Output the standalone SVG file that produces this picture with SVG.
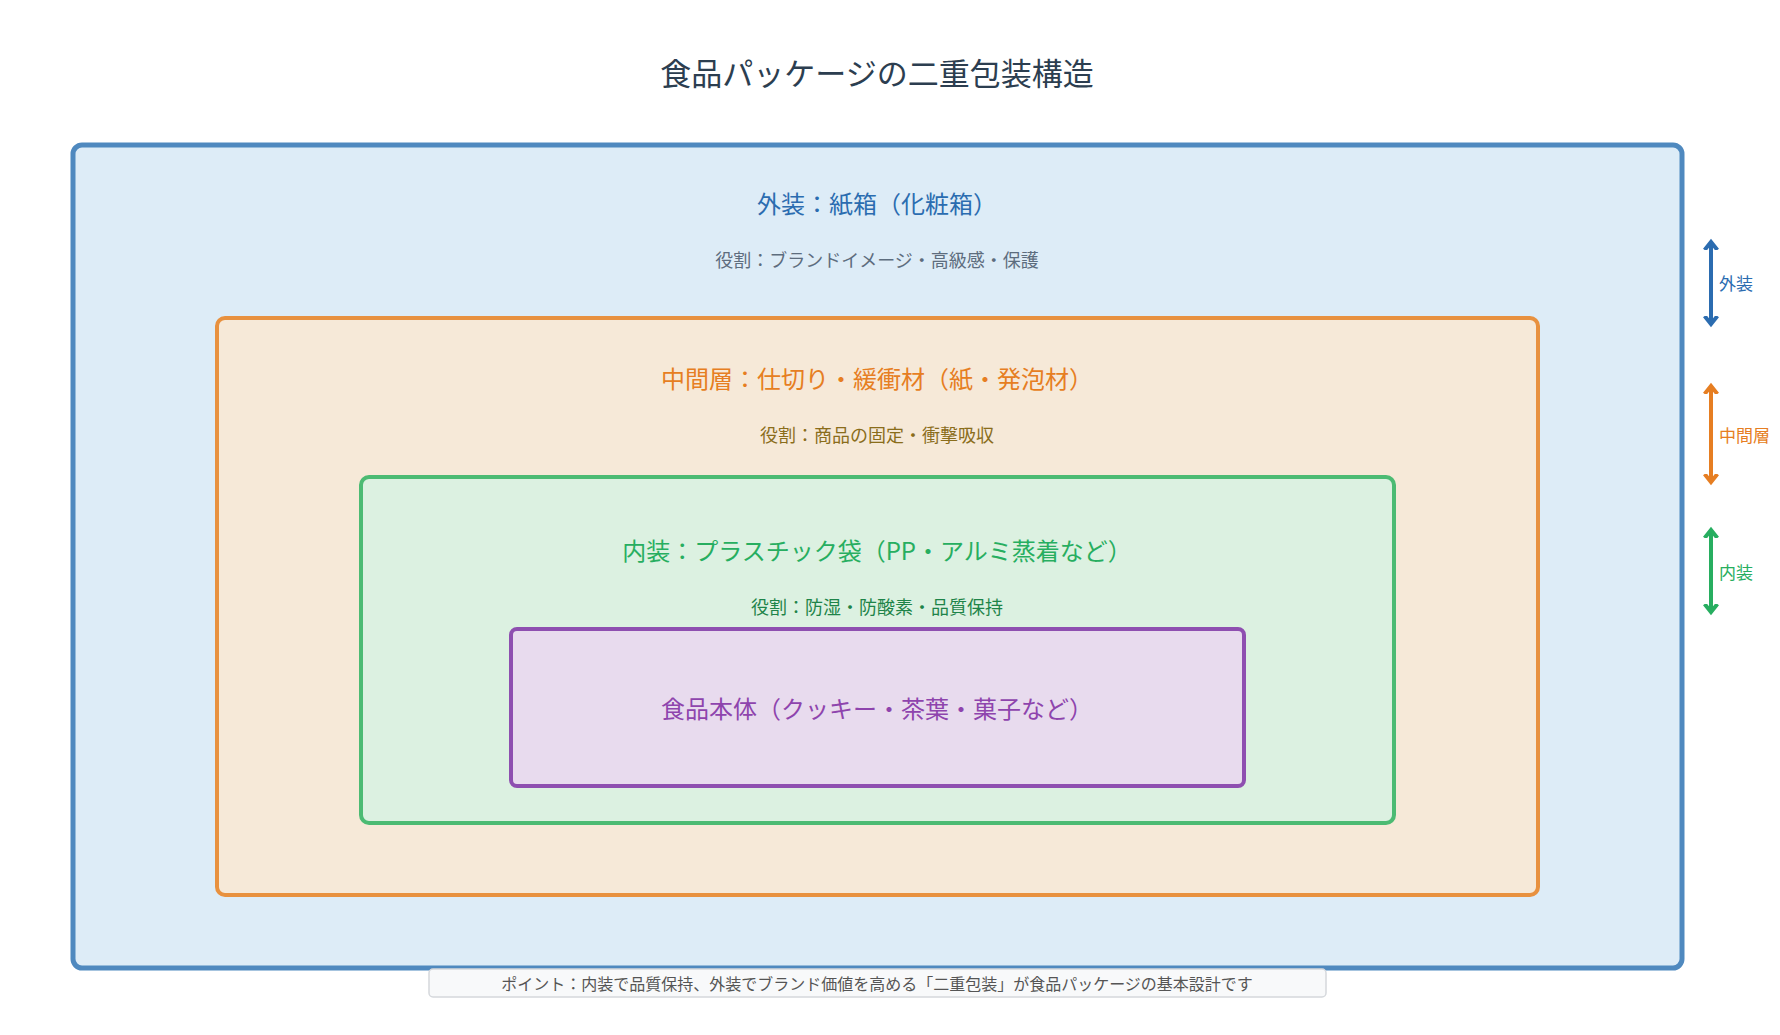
<svg xmlns="http://www.w3.org/2000/svg" width="1780" height="1035" viewBox="0 0 1780 1035">
<defs>
<style>
text{font-family:"Noto Sans CJK JP","Noto Sans",sans-serif;text-anchor:middle;dominant-baseline:central}
.t{font-size:24px}.s{font-size:18px}.l{font-size:17px;text-anchor:start}
</style>
<marker id="mb" viewBox="0 0 10 10" refX="5" refY="5" markerWidth="4" markerHeight="4" orient="auto-start-reverse"><path d="M0,1 L5,5 L0,9" fill="none" stroke="context-stroke" stroke-width="2.5"/></marker>
</defs>
<rect width="1780" height="1035" fill="#fff"/>
<text x="877" y="71" font-size="31" fill="#2c3e50">食品パッケージの二重包装構造</text>
<g id="outer"><rect x="73" y="145" width="1609" height="823" rx="9" fill="#ddecf7" stroke="#4f89bf" stroke-width="5"/>
<text class="t" x="877" y="202" fill="#2b6cb0">外装：紙箱（化粧箱）</text>
<text class="s" x="877" y="259" fill="#5d6d7e">役割：ブランドイメージ・高級感・保護</text></g>
<g id="middle"><rect x="217" y="318" width="1321" height="577" rx="8" fill="#f6e9d8" stroke="#e8913f" stroke-width="4"/>
<text class="t" x="877" y="377" fill="#e67e22" font-size="22">中間層：仕切り・緩衝材（紙・発泡材）</text>
<text class="s" x="877" y="434" fill="#8a6d1b">役割：商品の固定・衝撃吸収</text></g>
<g id="inner"><rect x="361" y="477" width="1033" height="346" rx="8" fill="#dcf1e1" stroke="#4cbb73" stroke-width="4"/>
<text class="t" x="877" y="549" fill="#27ae60" font-size="22">内装：プラスチック袋（PP・アルミ蒸着など）</text>
<text class="s" x="877" y="606" fill="#1e8449">役割：防湿・防酸素・品質保持</text></g>
<g id="food"><rect x="511" y="629" width="733" height="157" rx="6" fill="#e8dbee" stroke="#8e4fb0" stroke-width="4"/>
<text class="t" x="877" y="707" fill="#8e44ad" font-size="22">食品本体（クッキー・茶葉・菓子など）</text></g>
<g id="note"><rect x="429" y="969" width="897" height="28" rx="4" fill="#f8f9fa" stroke="#d5d8dc" stroke-width="1.5"/>
<text x="877" y="983" font-size="16" fill="#555">ポイント：内装で品質保持、外装でブランド価値を高める「二重包装」が食品パッケージの基本設計です</text></g>
<g id="connectors" stroke-width="4">
<line x1="1711" y1="242" x2="1711" y2="324" stroke="#2b6cb0" marker-start="url(#mb)" marker-end="url(#mb)"/>
<line x1="1711" y1="386" x2="1711" y2="482" stroke="#e67e22" marker-start="url(#mb)" marker-end="url(#mb)"/>
<line x1="1711" y1="530" x2="1711" y2="612" stroke="#27ae60" marker-start="url(#mb)" marker-end="url(#mb)"/>
</g>
<text class="l" x="1719" y="282" fill="#2b6cb0">外装</text>
<text class="l" x="1719" y="434" fill="#e67e22">中間層</text>
<text class="l" x="1719" y="571" fill="#27ae60">内装</text>
</svg>
